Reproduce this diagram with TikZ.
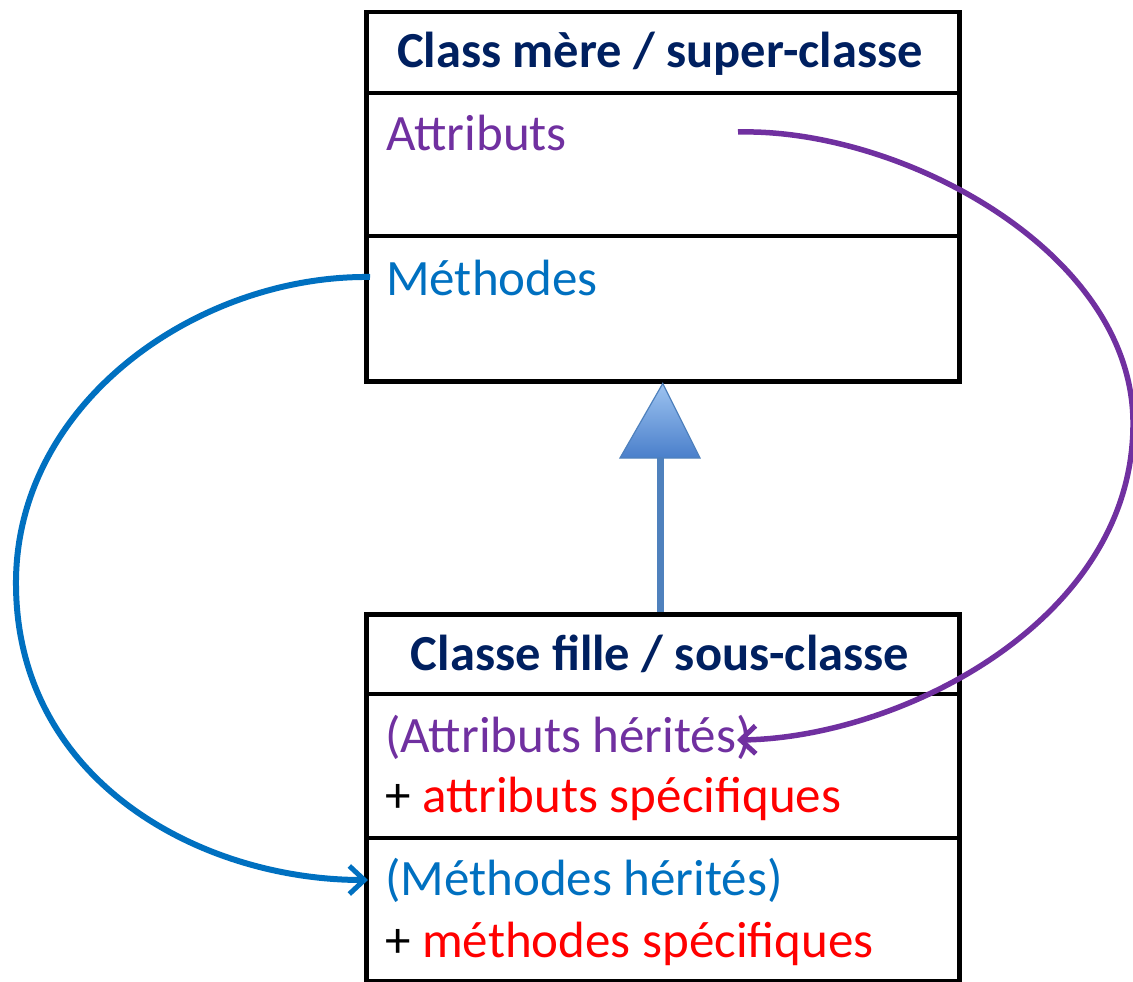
\documentclass[tikz,border=0pt]{standalone}
\usepackage{fontspec}
\setmainfont{Carlito}
\usetikzlibrary{arrows.meta}
\definecolor{navy}{HTML}{002060}
\definecolor{purp}{HTML}{7030A0}
\definecolor{mblue}{HTML}{0070C0}
\definecolor{mred}{HTML}{FF0000}
\definecolor{inhblue}{HTML}{4F81BD}
\definecolor{trilight}{HTML}{9DC3F0}
\definecolor{tridark}{HTML}{4A7FCB}
\tikzset{
  box/.style={draw=black, line width=4.5pt, minimum width=593pt, anchor=north west, inner sep=0pt},
  divider/.style={draw=black, line width=4.5pt},
  title/.style={font=\fontsize{50.5}{60}\selectfont\bfseries, text=navy, anchor=base, inner sep=0pt},
  txt/.style={font=\fontsize{51}{58}\selectfont, anchor=base west, inner sep=0pt},
  link/.style={line width=5.5pt, -{Straight Barb[length=15pt, width=28pt, line width=5pt]}},
}
\begin{document}
\begin{tikzpicture}[x=1pt, y=-1pt]
\useasboundingbox (0,0) rectangle (1133,982);
% boxes
\node[box, minimum height=369pt] (sup) at (364,10) {};
\node[box, minimum height=367pt] (sub) at (364,612) {};
\draw[divider] (364,93) -- (957,93);
\draw[divider] (364,236) -- (957,236);
\draw[divider] (364,694) -- (957,694);
\draw[divider] (364,838) -- (957,838);
% texts
\node[title] (suptitle) at (660,68) {Class mère / super-classe};
\node[txt, text=purp] (attr) at (386,150) {Attributs};
\node[txt, text=mblue] (meth) at (386,295) {Méthodes};
\node[title] (subtitle) at (660,670) {Classe fille / sous-classe};
\node[txt, text=purp] (attrh) at (385,752) {(Attributs hérités)};
\node[txt] (attrs) at (385,812) {+ \textcolor{mred}{attributs spécifiques}};
\node[txt, text=mblue] (methh) at (385,895) {(Méthodes hérités)};
\node[txt] (meths) at (385,957) {+ \textcolor{mred}{méthodes spécifiques}};
% inheritance
\coordinate (tribase) at (660,458);
\draw[inhblue, line width=7pt] (sub.north -| tribase) -- (tribase);
\shade[top color=trilight, bottom color=tridark, draw=inhblue, line width=1.2pt]
  (sup.south) -- (620,458) -- (700,458) -- cycle;
% links
\coordinate (pstart) at (738,132);
\coordinate (pend) at (737,740);
\draw[link, purp] (pstart) .. controls (900,128) and (1130,250) .. (1133,420)
  .. controls (1136,620) and (900,738) .. (pend);
\coordinate (bstart) at (370,277);
\coordinate (bend) at (368,880);
\draw[link, mblue, line width=6pt] (bstart) .. controls (200,275) and (18,400) .. (16,580)
  .. controls (14,780) and (200,880) .. (bend);
\end{tikzpicture}
\end{document}
